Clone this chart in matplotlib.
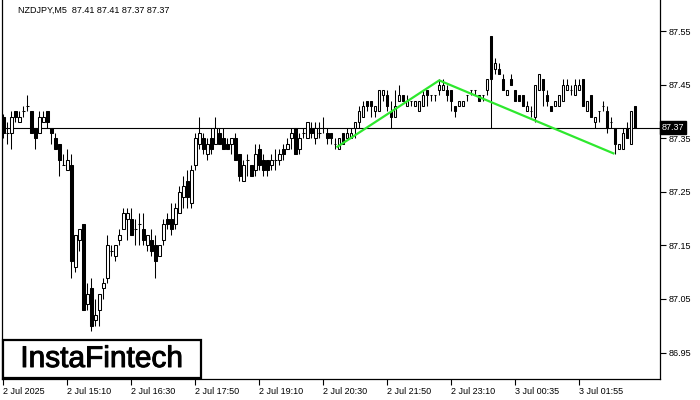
import numpy as np
import matplotlib.pyplot as plt
import matplotlib.patheffects as pe
from matplotlib.patches import Rectangle

plt.rcParams['font.family'] = ['Liberation Sans', 'DejaVu Sans']

# NZDJPY M5 candles
opens = [87.39, 87.36, 87.36, 87.40, 87.38, 87.40, 87.41, 87.40, 87.37, 87.36,
         87.38, 87.40, 87.37, 87.35, 87.34, 87.30, 87.29, 87.30, 87.11, 87.16,
         87.19, 87.04, 87.07, 87.01, 87.03, 87.07, 87.09, 87.14, 87.13, 87.16,
         87.18, 87.20, 87.20, 87.18, 87.19, 87.18, 87.15, 87.16, 87.15, 87.13,
         87.16, 87.20, 87.20, 87.19, 87.21, 87.24, 87.27, 87.23, 87.30, 87.34,
         87.35, 87.32, 87.35, 87.34, 87.36, 87.35, 87.34, 87.34, 87.35, 87.32,
         87.27, 87.31, 87.30, 87.29, 87.33, 87.31, 87.31, 87.30, 87.31, 87.31,
         87.33, 87.33, 87.35, 87.37, 87.33, 87.36, 87.35, 87.37, 87.35, 87.36,
         87.37, 87.36, 87.36, 87.34, 87.33, 87.36, 87.35, 87.35, 87.37, 87.38,
         87.39, 87.42, 87.42, 87.40, 87.40, 87.43, 87.43, 87.40, 87.39, 87.42,
         87.43, 87.41, 87.42, 87.41, 87.40, 87.41, 87.44, 87.43, 87.43, 87.44,
         87.44, 87.44, 87.44, 87.41, 87.41, 87.41, 87.43, 87.44, 87.44, 87.43,
         87.43, 87.44, 87.54, 87.48, 87.48, 87.46, 87.43, 87.46, 87.44, 87.43,
         87.43, 87.40, 87.40, 87.39, 87.44, 87.46, 87.43, 87.41, 87.41, 87.41,
         87.42, 87.44, 87.44, 87.43, 87.44, 87.46, 87.40, 87.43, 87.38, 87.40,
         87.41, 87.40, 87.38, 87.37, 87.33, 87.33, 87.37, 87.34, 87.41]
highs = [87.395, 87.38, 87.40, 87.40, 87.40, 87.41, 87.43, 87.40, 87.37, 87.40,
         87.40, 87.40, 87.37, 87.36, 87.34, 87.32, 87.33, 87.32, 87.17, 87.18,
         87.19, 87.08, 87.09, 87.05, 87.06, 87.09, 87.17, 87.15, 87.15, 87.18,
         87.22, 87.22, 87.22, 87.20, 87.21, 87.21, 87.17, 87.18, 87.17, 87.15,
         87.20, 87.21, 87.23, 87.23, 87.26, 87.28, 87.29, 87.30, 87.36, 87.39,
         87.36, 87.35, 87.37, 87.39, 87.37, 87.37, 87.35, 87.35, 87.36, 87.32,
         87.31, 87.32, 87.30, 87.34, 87.34, 87.32, 87.31, 87.32, 87.33, 87.33,
         87.34, 87.35, 87.37, 87.37, 87.36, 87.37, 87.38, 87.38, 87.38, 87.38,
         87.39, 87.37, 87.36, 87.35, 87.35, 87.36, 87.37, 87.37, 87.38, 87.41,
         87.42, 87.42, 87.42, 87.41, 87.44, 87.44, 87.44, 87.42, 87.44, 87.45,
         87.43, 87.43, 87.42, 87.42, 87.42, 87.44, 87.44, 87.43, 87.43, 87.46,
         87.46, 87.45, 87.44, 87.41, 87.42, 87.42, 87.43, 87.44, 87.44, 87.43,
         87.43, 87.46, 87.54, 87.50, 87.49, 87.47, 87.44, 87.47, 87.44, 87.43,
         87.43, 87.42, 87.41, 87.45, 87.47, 87.46, 87.44, 87.41, 87.42, 87.43,
         87.46, 87.46, 87.45, 87.46, 87.46, 87.46, 87.42, 87.43, 87.39, 87.40,
         87.42, 87.41, 87.39, 87.37, 87.34, 87.37, 87.38, 87.40, 87.41]
lows = [87.35, 87.34, 87.33, 87.38, 87.38, 87.39, 87.40, 87.36, 87.33, 87.36,
        87.38, 87.37, 87.34, 87.33, 87.28, 87.30, 87.29, 87.09, 87.10, 87.14,
        87.03, 87.03, 86.99, 87.00, 87.00, 87.05, 87.08, 87.13, 87.12, 87.15,
        87.18, 87.16, 87.17, 87.15, 87.15, 87.15, 87.14, 87.13, 87.09, 87.13,
        87.15, 87.18, 87.17, 87.18, 87.21, 87.22, 87.22, 87.22, 87.29, 87.33,
        87.32, 87.31, 87.32, 87.34, 87.34, 87.33, 87.33, 87.32, 87.31, 87.27,
        87.27, 87.28, 87.28, 87.28, 87.29, 87.28, 87.28, 87.29, 87.29, 87.30,
        87.31, 87.33, 87.33, 87.32, 87.32, 87.35, 87.35, 87.35, 87.34, 87.35,
        87.36, 87.34, 87.34, 87.33, 87.33, 87.34, 87.35, 87.35, 87.35, 87.37,
        87.39, 87.40, 87.39, 87.39, 87.40, 87.42, 87.40, 87.37, 87.39, 87.42,
        87.42, 87.41, 87.41, 87.41, 87.40, 87.41, 87.41, 87.42, 87.42, 87.43,
        87.44, 87.42, 87.40, 87.39, 87.41, 87.41, 87.42, 87.43, 87.43, 87.42,
        87.42, 87.43, 87.37, 87.47, 87.47, 87.44, 87.43, 87.45, 87.42, 87.42,
        87.41, 87.40, 87.39, 87.38, 87.44, 87.41, 87.41, 87.40, 87.41, 87.41,
        87.42, 87.44, 87.43, 87.43, 87.44, 87.41, 87.40, 87.39, 87.37, 87.38,
        87.40, 87.36, 87.37, 87.32, 87.33, 87.33, 87.35, 87.34, 87.37]
closes = [87.36, 87.36, 87.39, 87.39, 87.39, 87.40, 87.41, 87.36, 87.35, 87.39,
          87.39, 87.38, 87.36, 87.33, 87.31, 87.30, 87.31, 87.12, 87.17, 87.18,
          87.03, 87.06, 87.00, 87.02, 87.06, 87.08, 87.15, 87.14, 87.15, 87.17,
          87.21, 87.21, 87.17, 87.18, 87.19, 87.16, 87.17, 87.14, 87.12, 87.15,
          87.19, 87.19, 87.18, 87.22, 87.25, 87.26, 87.24, 87.29, 87.35, 87.36,
          87.33, 87.34, 87.33, 87.37, 87.34, 87.33, 87.33, 87.35, 87.31, 87.28,
          87.30, 87.31, 87.28, 87.32, 87.30, 87.29, 87.29, 87.31, 87.31, 87.32,
          87.32, 87.34, 87.36, 87.32, 87.35, 87.36, 87.38, 87.36, 87.37, 87.36,
          87.37, 87.35, 87.35, 87.34, 87.35, 87.34, 87.36, 87.36, 87.38, 87.40,
          87.41, 87.41, 87.41, 87.41, 87.44, 87.44, 87.41, 87.39, 87.41, 87.43,
          87.42, 87.42, 87.42, 87.42, 87.42, 87.43, 87.43, 87.43, 87.43, 87.45,
          87.45, 87.43, 87.42, 87.40, 87.42, 87.42, 87.43, 87.44, 87.44, 87.42,
          87.43, 87.46, 87.46, 87.49, 87.47, 87.44, 87.44, 87.45, 87.42, 87.42,
          87.41, 87.41, 87.40, 87.45, 87.47, 87.44, 87.42, 87.40, 87.42, 87.43,
          87.45, 87.45, 87.44, 87.45, 87.45, 87.41, 87.42, 87.39, 87.39, 87.40,
          87.41, 87.37, 87.38, 87.34, 87.34, 87.36, 87.35, 87.40, 87.37]

tick_bars = [0, 16, 32, 48, 64, 80, 96, 112, 128, 144]
tick_labels = ['2 Jul 2025', '2 Jul 15:10', '2 Jul 16:30', '2 Jul 17:50',
               '2 Jul 19:10', '2 Jul 20:30', '2 Jul 21:50', '2 Jul 23:10',
               '3 Jul 00:35', '3 Jul 01:55']
price_ticks = [86.95, 87.05, 87.15, 87.25, 87.35, 87.45, 87.55]

# double top / pattern lines
pattern_x = [83.3, 109.0, 152.8]
pattern_y = [87.333, 87.458, 87.321]
last_price = 87.37

o = np.array(opens)
h = np.array(highs)
l = np.array(lows)
c = np.array(closes)
x = np.arange(len(o))

fig = plt.figure(figsize=(7, 4), dpi=100)
ax = fig.add_axes([2/700, 21/400, 658/700, 379/400])

ax.axhline(last_price, color='black', lw=0.8, zorder=1)

# wicks then bodies
ax.vlines(x, l, h, color='black', lw=0.75, zorder=2)
bull = c >= o
ax.bar(x, np.abs(c - o), bottom=np.minimum(o, c), width=0.62,
       color=np.where(bull, 'white', 'black'), edgecolor='black',
       linewidth=0.75, zorder=3)

ax.plot(pattern_x, pattern_y, color='#2ee82e', lw=1.6, zorder=5,
        solid_capstyle='butt')

ax.set_xlim(-0.33, 164.2)
ax.set_ylim(86.9007, 87.608)

ax.spines['top'].set_visible(False)
for s in ['left', 'right', 'bottom']:
    ax.spines[s].set_linewidth(0.9)

ax.yaxis.tick_right()
ax.set_yticks(price_ticks)
ax.set_yticklabels(['%.2f' % p for p in price_ticks])
ax.set_xticks(tick_bars)
ax.set_xticklabels(tick_labels)
for lbl in ax.get_xticklabels():
    lbl.set_horizontalalignment('left')
ax.tick_params(axis='both', direction='out', length=4, width=0.8,
               labelsize=6.5, pad=2)

# current price marker on the scale
ax.text(1.003, last_price, '87.37', transform=ax.get_yaxis_transform(),
        ha='left', va='center', color='white', fontsize=6.5,
        bbox=dict(boxstyle='square,pad=0.2', fc='black', ec='black'))

fig.text(18/700, 1 - 10/400, 'NZDJPY,M5  87.41 87.41 87.37 87.37',
         ha='left', va='center', fontsize=6.5)

# logo box
fig.add_artist(Rectangle((3/700, 22/400), 198/700, 38/400,
                         transform=fig.transFigure, fc='white', ec='black',
                         lw=1.6, zorder=10))
fig.text(102/700, 1 - 359/400, 'InstaFintech', ha='center', va='center',
         fontsize=21.5, zorder=11,
         path_effects=[pe.withStroke(linewidth=0.7, foreground='black')])

fig.savefig('out.png', dpi=100)
